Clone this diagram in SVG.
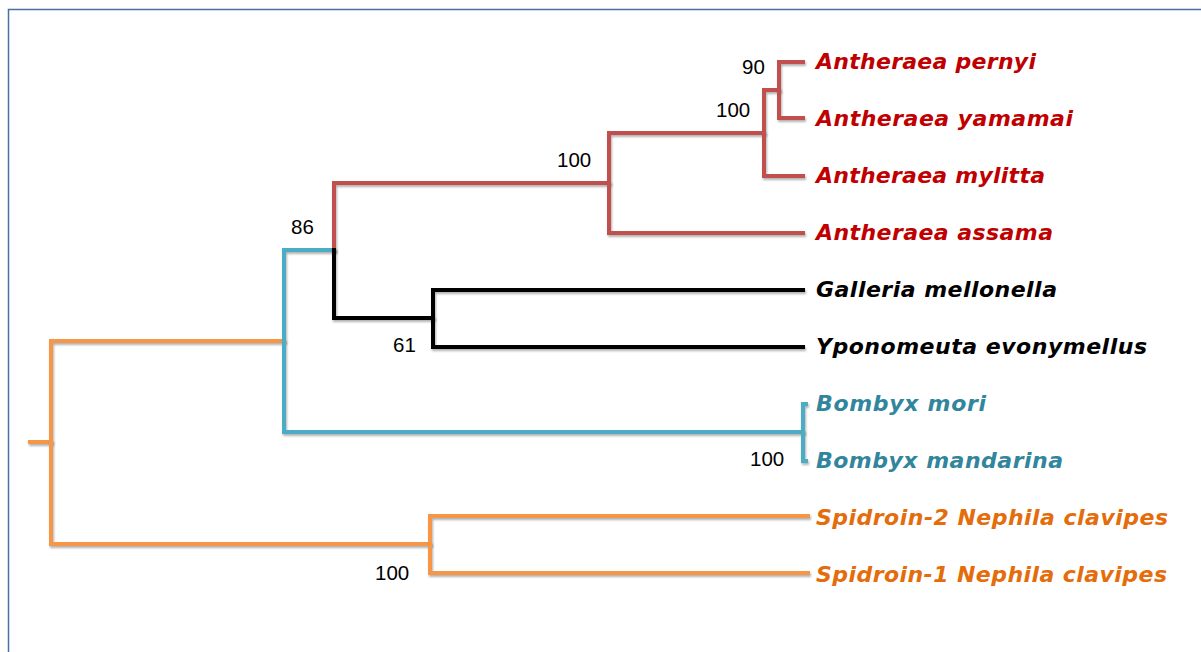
<svg xmlns="http://www.w3.org/2000/svg" width="1201" height="652" viewBox="0 0 1201 652">
<defs>
<filter id="sh" filterUnits="userSpaceOnUse" x="0" y="0" width="1201" height="652">
<feDropShadow dx="1" dy="2" stdDeviation="1" flood-color="#000" flood-opacity="0.3"/>
</filter>
</defs>
<style>
.b{fill:none;stroke-width:4;stroke-linecap:square;stroke-linejoin:miter;filter:url(#sh)}
.red{stroke:#c0504d}.blk{stroke:#000}.cyn{stroke:#4bacc6}.org{stroke:#f79646}
.lab{font-family:"DejaVu Sans","Verdana",sans-serif;font-weight:bold;font-style:italic;font-size:22px}
.tr{fill:#c00000}.tk{fill:#000}.tt{fill:#31859c}.to{fill:#e46c0a}
.num{font-family:"Liberation Sans",Arial,sans-serif;font-size:20.5px;fill:#000}
</style>
<rect width="1201" height="652" fill="#fff"/>
<path d="M8.5 652 V9.5 H1201" fill="none" stroke="#4a6fa5" stroke-width="1.5"/>
<g id="connectors">
<path class="b org" d="M30 442 H51"/>
<path class="b org" d="M284 341 H51 V544 H430"/>
<path class="b cyn" d="M334 250 H284 V432 H803"/>
<path class="b cyn" d="M806 404 H803 V461 H806"/>
<path class="b red" d="M334 250 V183 H609"/>
<path class="b red" d="M764 133 H609 V233 H803"/>
<path class="b red" d="M779 90 H764 V176 H803"/>
<path class="b red" d="M803 62 H779 V118 H803"/>
<path class="b blk" d="M334 250 V318 H433"/>
<path class="b blk" d="M803 290 H433 V347 H803"/>
<path class="b org" d="M808 516 H430 V573 H808"/>
</g>
<g id="n-pernyi"><text class="lab tr" x="816" y="69" textLength="220">Antheraea pernyi</text></g>
<g id="n-yamamai"><text class="lab tr" x="816" y="126" textLength="257">Antheraea yamamai</text></g>
<g id="n-mylitta"><text class="lab tr" x="816" y="183" textLength="229">Antheraea mylitta</text></g>
<g id="n-assama"><text class="lab tr" x="816" y="240" textLength="237">Antheraea assama</text></g>
<g id="n-galleria"><text class="lab tk" x="816" y="297" textLength="241">Galleria mellonella</text></g>
<g id="n-yponomeuta"><text class="lab tk" x="816" y="354" textLength="331">Yponomeuta evonymellus</text></g>
<g id="n-bmori"><text class="lab tt" x="816" y="411" textLength="170">Bombyx mori</text></g>
<g id="n-bmandarina"><text class="lab tt" x="816" y="468" textLength="247">Bombyx mandarina</text></g>
<g id="n-spid2"><text class="lab to" x="816" y="525" textLength="352">Spidroin-2 Nephila clavipes</text></g>
<g id="n-spid1"><text class="lab to" x="816" y="582" textLength="351">Spidroin-1 Nephila clavipes</text></g>
<g id="support">
<text class="num" x="742" y="74">90</text>
<text class="num" x="716" y="117">100</text>
<text class="num" x="557" y="167">100</text>
<text class="num" x="291" y="234">86</text>
<text class="num" x="393" y="352">61</text>
<text class="num" x="750" y="466">100</text>
<text class="num" x="375" y="580">100</text>
</g>
</svg>
